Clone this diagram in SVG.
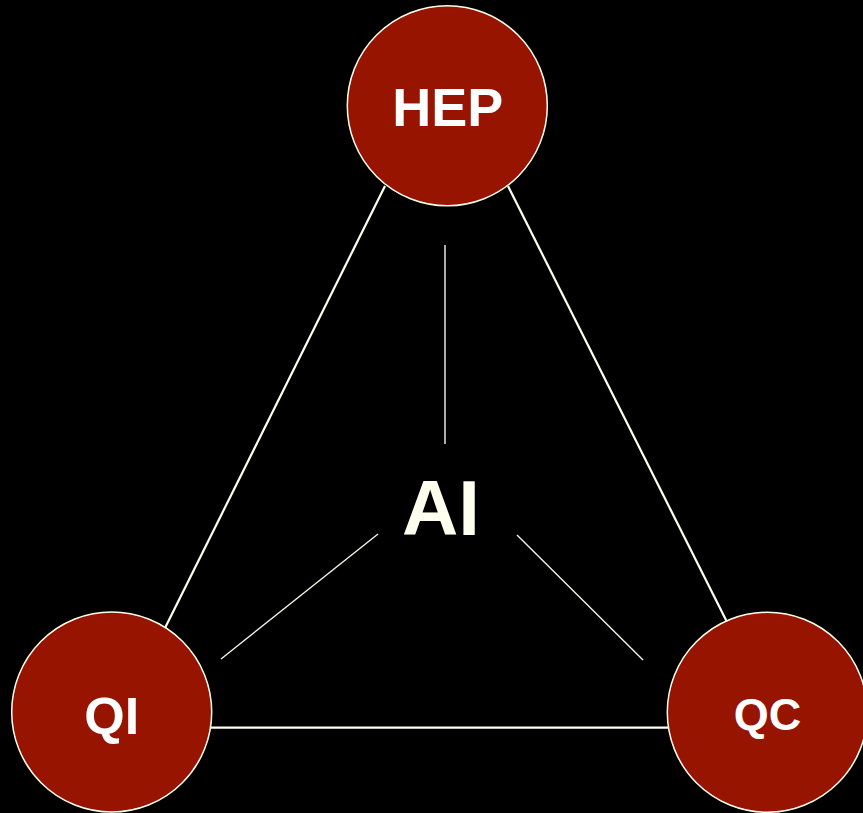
<svg xmlns="http://www.w3.org/2000/svg" width="863" height="813" viewBox="0 0 863 813">
<style>
.node circle{fill:#961400;stroke:#fffff0;stroke-width:1.5}
.node text{fill:#ffffff;font-family:"Liberation Sans",Arial,sans-serif;font-weight:bold;text-anchor:middle}
.edge{stroke:#fffff0;stroke-width:2.2;fill:none}
.spoke{stroke:#f4f4e4;stroke-width:1.4;fill:none}
</style>
<rect width="863" height="813" fill="#000000"/>
<g id="connectors">
<line class="edge" x1="385" y1="186" x2="165" y2="628"/>
<line class="edge" x1="508" y1="186" x2="727" y2="622"/>
<line class="edge" x1="211" y1="727.7" x2="668" y2="727.7"/>
<line class="spoke" x1="445" y1="245" x2="445" y2="444"/>
<line class="spoke" x1="378" y1="534" x2="221" y2="659"/>
<line class="spoke" x1="517" y1="535" x2="643" y2="660"/>
</g>
<g id="hep" class="node">
<circle cx="447.3" cy="105.7" r="100"/>
<text x="447.8" y="126" font-size="54">HEP</text>
</g>
<g id="qi" class="node">
<circle cx="111.7" cy="712" r="100"/>
<text x="111.7" y="734" font-size="52">QI</text>
</g>
<g id="qc" class="node">
<circle cx="767.3" cy="712.3" r="100"/>
<text x="767.5" y="730" font-size="45">QC</text>
</g>
<g id="ai">
<text x="441" y="535" font-size="78" fill="#fffff0" font-family="Liberation Sans,Arial,sans-serif" font-weight="bold" text-anchor="middle">AI</text>
</g>
</svg>
